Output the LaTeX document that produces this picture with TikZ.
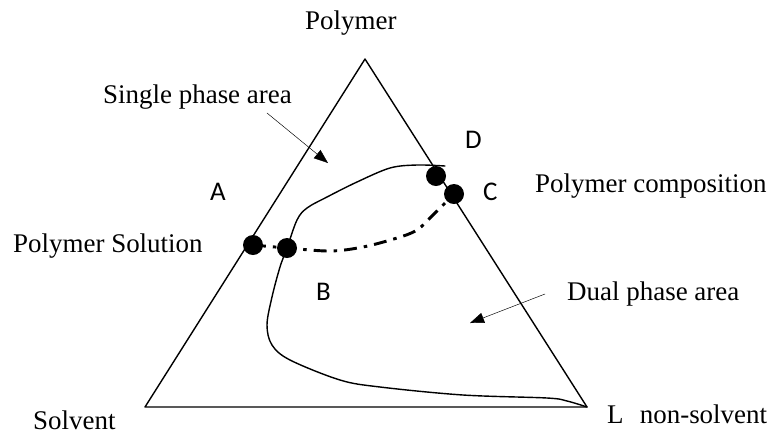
\documentclass[tikz,border=0pt]{standalone}
\usepackage{fontspec}
\setmainfont{Liberation Serif}
\newfontfamily\letterfont{Carlito}
\usetikzlibrary{arrows.meta}
\begin{document}
\begin{tikzpicture}[x=0.03cm,y=-0.03cm,line join=round,line cap=round,
	font=\fontsize{23}{27}\selectfont,
	lbl/.style={anchor=base west,inner sep=0pt},
	ltr/.style={lbl,font=\fontsize{23}{27}\selectfont\letterfont},
	dot/.style={circle,fill=black,inner sep=0pt,minimum size=0.6cm},
	lead/.style={line width=0.4pt,-{Triangle[length=12pt,width=9pt]}}]
	\useasboundingbox (0,0) rectangle (775,434);
	\path 
	(145,407) coordinate (S)
	(587,407) coordinate (N)
	(365,59) coordinate (P)
	(253,245) coordinate (a)
	(287,248) coordinate (b)
	(454,194) coordinate (c)
	(436,176) coordinate (d);
	\draw[line width=1.2pt] (S)--(P)--(N)--cycle;
	% binodal curve
	\draw[line width=1.2pt] plot[smooth,tension=.55] coordinates {(445,166) (417,165) (390,168) (357,182) (327,197) (307,208) (297,220) (b) (280,267) (272,297) (267,325) (272,345) (290,360) (340,380) (380,387) (463,395) (547,398) (567,401) (N)};
	% tie line
	\draw[line width=2.5pt,line cap=butt,dash pattern=on 11pt off 6pt on 3pt off 6pt] plot[smooth,tension=.55] coordinates {(a) (b) (330,251) (363,247) (397,238) (417,230) (433,215) (c)};
	\foreach \p in {a,b,c,d}
	\node[dot] (d\p) at (\p) {};
	% labels
	\node[lbl] (poly) at (305,29) {Polymer};
	\node[lbl] (single) at (103,103) {Single phase area};
	\node[lbl] (sol) at (13,252) {Polymer Solution};
	\node[lbl] (comp) at (535,192) {Polymer composition};
	\node[lbl] (dual) at (567,300) {Dual phase area};
	\node[lbl] (solv) at (33,429) {Solvent};
	\node[lbl] (nons) at (607,423) {L\hspace{0.6em}non-solvent};
	\foreach \p/\x/\y in {A/210/200, B/316/300, C/483/200, D/465/148}
	\node[ltr] (l\p) at (\x,\y) {\p};
	\path (267,113) coordinate (s1) (328,163) coordinate (s2)
	(545,294) coordinate (t1) (470,323) coordinate (t2);
	\draw[lead] (s1)--(s2);
	\draw[lead] (t1)--(t2);
\end{tikzpicture}
\end{document}
